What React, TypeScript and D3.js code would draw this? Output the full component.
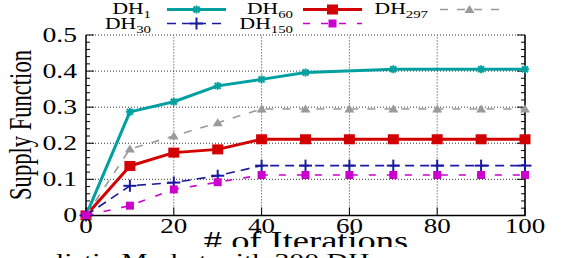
import * as d3 from "d3";

const iterations = [0, 10, 20, 30, 40, 50, 60, 70, 80, 90, 100];
const dh1Iter = [0, 10, 20, 30, 40, 50, 70, 90, 100];
const dh1 = [0, 0.287, 0.315, 0.359, 0.377, 0.396, 0.405, 0.405, 0.405];
const dh60 = [0, 0.137, 0.174, 0.183, 0.211, 0.211, 0.211, 0.211, 0.211, 0.211, 0.211];
const dh297 = [0, 0.184, 0.22, 0.257, 0.295, 0.295, 0.295, 0.295, 0.295, 0.295, 0.295];
const dh30 = [0, 0.082, 0.091, 0.11, 0.138, 0.138, 0.138, 0.138, 0.138, 0.138, 0.138];
const dh150 = [0, 0.027, 0.072, 0.092, 0.112, 0.112, 0.112, 0.112, 0.112, 0.112, 0.112];

const xTicks = [0, 20, 40, 60, 80, 100];
const yTicks = [0, 0.1, 0.2, 0.3, 0.4, 0.5];
const yTickLabels = ["0", "0.1", "0.2", "0.3", "0.4", "0.5"];

const FONT = "Liberation Serif";
const SX = 1.35;

type Marker = "star" | "square" | "plus" | "smallsquare" | "triangle";

interface Series {
  name: string;
  sub: string;
  xs: number[];
  ys: number[];
  color: string;
  width: number;
  dash?: string;
  marker: Marker;
}

const series: Series[] = [
  { name: "DH", sub: "1", xs: dh1Iter, ys: dh1, color: "#00a0a0", width: 3, marker: "star" },
  { name: "DH", sub: "60", xs: iterations, ys: dh60, color: "#d20000", width: 3, marker: "square" },
  { name: "DH", sub: "297", xs: iterations, ys: dh297, color: "#9a9a9a", width: 1.6, dash: "8,9", marker: "triangle" },
  { name: "DH", sub: "30", xs: iterations, ys: dh30, color: "#1a1aa0", width: 1.6, dash: "9,6", marker: "plus" },
  { name: "DH", sub: "150", xs: iterations, ys: dh150, color: "#cc00cc", width: 1.6, dash: "7,11", marker: "smallsquare" },
];

// legend slots: [text right edge, sample start, baseline row]
const legendSlots = [
  { textEnd: 151, sx0: 167, row: 0 },
  { textEnd: 293, sx0: 303, row: 0 },
  { textEnd: 428, sx0: 440, row: 0 },
  { textEnd: 151, sx0: 167, row: 1 },
  { textEnd: 293, sx0: 303, row: 1 },
];

function MarkerShape({ type, x, y, color }: { type: Marker; x: number; y: number; color: string }) {
  if (type === "star") {
    const r = 4;
    return (
      <g stroke={color} strokeWidth={2}>
        <line x1={x - r} y1={y} x2={x + r} y2={y} />
        <line x1={x} y1={y - r} x2={x} y2={y + r} />
        <line x1={x - r * 0.75} y1={y - r * 0.75} x2={x + r * 0.75} y2={y + r * 0.75} />
        <line x1={x - r * 0.75} y1={y + r * 0.75} x2={x + r * 0.75} y2={y - r * 0.75} />
      </g>
    );
  }
  if (type === "square") return <rect x={x - 5.5} y={y - 5} width={11} height={10} fill={color} />;
  if (type === "smallsquare") return <rect x={x - 4} y={y - 4} width={8} height={8} fill={color} />;
  if (type === "plus") {
    return (
      <g stroke={color} strokeWidth={2}>
        <line x1={x - 6.5} y1={y} x2={x + 6.5} y2={y} />
        <line x1={x} y1={y - 6} x2={x} y2={y + 6} />
      </g>
    );
  }
  return <path d={`M${x - 5},${y + 3.5}L${x + 5},${y + 3.5}L${x},${y - 4.5}Z`} fill={color} />;
}

function STxt({ x, y, size, anchor = "start", children }: { x: number; y: number; size: number; anchor?: string; children: any }) {
  return (
    <text transform={`translate(${x},${y}) scale(${SX},1)`} fontSize={size} fontFamily={FONT} textAnchor={anchor} fill="#000">
      {children}
    </text>
  );
}

export default function App() {
  const W = 567;
  const H = 258;
  const x = d3.scaleLinear().domain([0, 100]).range([86, 525]);
  const y = d3.scaleLinear().domain([0, 0.5]).range([215.4, 35]);
  const minorY = d3.range(0, 0.5001, 0.02);

  const line = (s: Series) =>
    d3
      .line<number>()
      .x((_, i) => x(s.xs[i]))
      .y((d) => y(d))(s.ys) || "";

  return (
    <svg width={W} height={H} style={{ position: "absolute", left: 0, top: 0, background: "#fff" }}>
      <defs>
        <clipPath id="xlab">
          <rect x={0} y={220} width={W} height={27} />
        </clipPath>
      </defs>

      {/* grid */}
      <g stroke="#333" strokeWidth={1} strokeDasharray="1,2">
        {yTicks.slice(1).map((t) => (
          <line key={"gy" + t} x1={x(0)} x2={x(100)} y1={y(t)} y2={y(t)} />
        ))}
        {xTicks.slice(1).map((t) => (
          <line key={"gx" + t} x1={x(t)} x2={x(t)} y1={y(0)} y2={y(0.5)} />
        ))}
      </g>

      {/* ticks */}
      <g stroke="#000" strokeWidth={1}>
        {minorY.map((t, i) => {
          const major = i % 5 === 0;
          const len = major ? 8 : 4;
          return (
            <g key={"ty" + i}>
              <line x1={x(0)} x2={x(0) + len} y1={y(t)} y2={y(t)} />
              <line x1={x(100)} x2={x(100) - len} y1={y(t)} y2={y(t)} />
            </g>
          );
        })}
        {xTicks.map((t) => (
          <line key={"tx" + t} x1={x(t)} x2={x(t)} y1={y(0)} y2={y(0) - 8} />
        ))}
      </g>

      {/* border */}
      <path
        d={`M${x(0)},${y(0.5)}V${y(0)}H${x(100)}V${y(0.5)}`}
        fill="none"
        stroke="#000"
        strokeWidth={1.5}
      />

      {/* series */}
      {series.map((s, si) => (
        <g key={"s" + si}>
          <path d={line(s)} fill="none" stroke={s.color} strokeWidth={s.width} strokeDasharray={s.dash} strokeLinejoin="round" />
          {s.ys.map((v, i) => (
            <MarkerShape key={i} type={s.marker} x={x(s.xs[i])} y={y(v)} color={s.color} />
          ))}
        </g>
      ))}

      {/* tick labels */}
      {yTicks.map((t, i) => (
        <STxt key={"yl" + t} x={77} y={y(t) + 7} size={20.5} anchor="end">
          {yTickLabels[i]}
        </STxt>
      ))}
      {xTicks.map((t) => (
        <STxt key={"xl" + t} x={x(t)} y={233} size={20} anchor="middle">
          {String(t)}
        </STxt>
      ))}

      {/* axis titles */}
      <text
        transform={`translate(31,125) scale(${SX},1) rotate(-90)`}
        fontSize={22.6}
        fontFamily={FONT}
        textAnchor="middle"
      >
        Supply Function
      </text>
      <g clipPath="url(#xlab)">
        <STxt x={306} y={250} size={27} anchor="middle">
          # of Iterations
        </STxt>
      </g>

      {/* caption, cut off at the bottom */}
      <STxt x={56} y={268} size={22}>
        listic Market with 300 DH
      </STxt>

      {/* legend */}
      {series.map((s, si) => {
        const slot = legendSlots[si];
        const ly = slot.row === 0 ? 9.5 : 23.5;
        const base = slot.row === 0 ? 13.5 : 29;
        const mid = slot.sx0 + 29.5;
        return (
          <g key={"lg" + si}>
            <STxt x={slot.textEnd} y={base} size={16} anchor="end">
              {s.name}
              <tspan fontSize={11} dy={4}>
                {s.sub}
              </tspan>
            </STxt>
            <line
              x1={slot.sx0}
              x2={slot.sx0 + 59}
              y1={ly}
              y2={ly}
              stroke={s.color}
              strokeWidth={s.width}
              strokeDasharray={s.dash}
            />
            <MarkerShape type={s.marker} x={mid} y={ly} color={s.color} />
          </g>
        );
      })}
    </svg>
  );
}
